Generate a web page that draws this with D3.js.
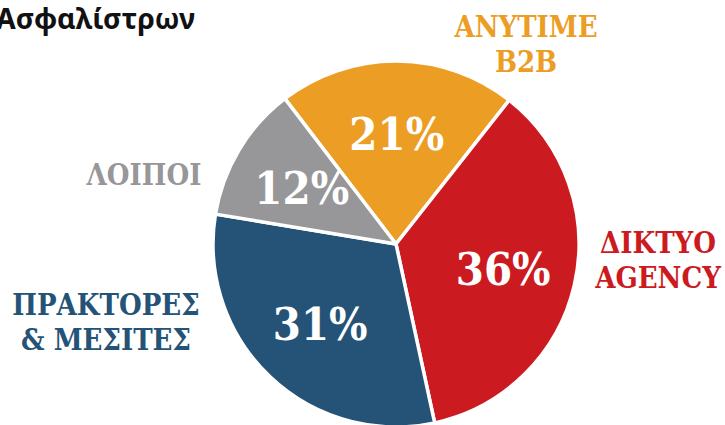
<!DOCTYPE html>
<html>
<head>
<meta charset="utf-8">
<script src="https://cdn.jsdelivr.net/npm/d3@7"></script>
<style>
  body { margin: 0; background: #fff; }
  svg { display: block; }
  .lbl { font-family: "DejaVu Serif", serif; font-weight: bold; font-stretch: condensed; }
</style>
</head>
<body>
<div id="chart"></div>
<script>
// data
var categories = ["ANYTIME B2B", "ΔΙΚΤΥΟ AGENCY", "ΠΡΑΚΤΟΡΕΣ & ΜΕΣΙΤΕΣ", "ΛΟΙΠΟΙ"];
var values = [21, 36, 31, 12];
var labelLines = [["ANYTIME", "B2B"], ["ΔΙΚΤΥΟ", "AGENCY"], ["ΠΡΑΚΤΟΡΕΣ", "& ΜΕΣΙΤΕΣ"], ["ΛΟΙΠΟΙ"]];
var colors = ["#ec9d24", "#cc1a21", "#245377", "#97979a"];
var title = "Ασφαλίστρων";

var width = 725, height = 425;
var cx = 396, cy = 244, radius = 183;

var svg = d3.select("#chart").append("svg")
    .attr("width", width)
    .attr("height", height);

// title is clipped at the left edge, as in the original
svg.append("text")
    .attr("x", 195)
    .attr("y", 29)
    .attr("text-anchor", "end")
    .style("font-family", "'Noto Sans', sans-serif")
    .style("font-weight", "bold")
    .style("font-size", "28.5px")
    .attr("fill", "#111")
    .text(title);

var startA = -37.4 * Math.PI / 180;
var pie = d3.pie().sort(null).value(function (d) { return d; })
    .startAngle(startA).endAngle(startA + 2 * Math.PI);
var arcs = pie(values);

var arc = d3.arc().innerRadius(0).outerRadius(radius);
var labelArc = d3.arc().innerRadius(110).outerRadius(110);

var g = svg.append("g").attr("transform", "translate(" + cx + "," + cy + ")");

g.selectAll("path")
    .data(arcs)
    .enter()
    .append("path")
    .attr("d", arc)
    .attr("fill", function (d, i) { return colors[i]; })
    .attr("stroke", "#fff")
    .attr("stroke-width", 3.5)
    .attr("stroke-linejoin", "round");

g.selectAll("text.pct")
    .data(arcs)
    .enter()
    .append("text")
    .attr("class", "pct lbl")
    .attr("transform", function (d) { return "translate(" + labelArc.centroid(d) + ")"; })
    .attr("text-anchor", "middle")
    .attr("dy", "0.36em")
    .style("font-size", "45px")
    .attr("fill", "#fff")
    .text(function (d) { return d.value + "%"; });

// outer category labels
var outerPos = [[526, 37], [658, 253], [106, 315], [144, 185]];
var lineGap = 35;
svg.selectAll("text.cat")
    .data(labelLines)
    .enter()
    .append("text")
    .attr("class", "cat lbl")
    .attr("text-anchor", "middle")
    .attr("x", function (d, i) { return outerPos[i][0]; })
    .attr("y", function (d, i) { return outerPos[i][1]; })
    .style("font-size", "29px")
    .attr("fill", function (d, i) { return colors[i]; })
    .each(function (d, i) {
        var t = d3.select(this);
        d.forEach(function (line, j) {
            t.append("tspan")
                .attr("x", outerPos[i][0])
                .attr("dy", j == 0 ? 0 : lineGap)
                .text(line);
        });
    });
</script>
</body>
</html>
